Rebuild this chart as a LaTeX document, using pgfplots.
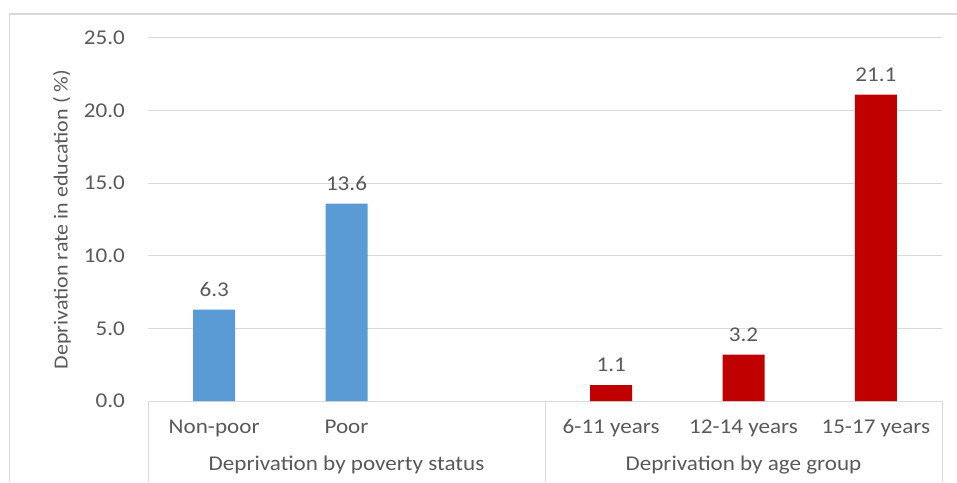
\documentclass[border=0pt]{standalone}
\usepackage{pgfplots}
\pgfplotsset{compat=1.18}
\usepackage{fontspec}
\setmainfont{Carlito}[FakeStretch=1.1]
\definecolor{barblue}{HTML}{5B9BD5}
\definecolor{barred}{HTML}{C00000}
\definecolor{gridgray}{HTML}{D9D9D9}
\definecolor{textgray}{HTML}{595959}
\begin{document}
\fontsize{21}{25}\selectfont
\begin{tikzpicture}[x=1pt,y=1pt]
\begin{axis}[
  at={(148pt,81pt)}, anchor=south west,
  scale only axis, width=794pt, height=363pt,
  xmin=-0.5, xmax=5.5, ymin=0, ymax=25,
  ytick={0,5,...,25},
  xtick={0,1,3,4,5},
  xticklabels={Non-poor,Poor,6-11 years,12-14 years,15-17 years},
  axis line style={draw=none},
  major tick length=0pt,
  ymajorgrids, grid style={gridgray, line width=1pt},
  /pgf/number format/fixed,
  /pgf/number format/fixed zerofill,
  /pgf/number format/precision=1,
  /pgf/number format/assume math mode=true,
  yticklabel style={anchor=east, inner sep=0pt, xshift=-23pt, text=textgray},
  xticklabel style={anchor=base, inner sep=0pt, yshift=-32pt, text=textgray},
  ylabel={Deprivation rate in education ( \%)},
  ylabel style={at={(axis description cs:-0.1083,0.5)}, anchor=center, text=textgray, font=\fontsize{20}{24}\selectfont},
  ybar, bar width=42pt,
  nodes near coords,
  every node near coord/.append style={anchor=south, inner sep=0pt, yshift=13pt, text=textgray},
  clip=false,
]
% poverty status
\addplot[fill=barblue, draw=none, bar shift=0pt] coordinates {(0,6.3) (1,13.6)};
% age groups
\addplot[fill=barred, draw=none, bar shift=0pt] coordinates {(3,1.1) (4,3.2) (5,21.1)};
% group separators below the category axis
\draw[gridgray, line width=1pt] (axis cs:-0.5,0) -- ([yshift=-81pt]axis cs:-0.5,0);
\draw[gridgray, line width=1pt] (axis cs:2.5,0) -- ([yshift=-81pt]axis cs:2.5,0);
\draw[gridgray, line width=1pt] (axis cs:5.5,0) -- ([yshift=-81pt]axis cs:5.5,0);
\node[anchor=base, text=textgray] at ([yshift=-69pt]axis cs:1,0) {Deprivation by poverty status};
\node[anchor=base, text=textgray] at ([yshift=-69pt]axis cs:4,0) {Deprivation by age group};
\end{axis}
% chart area border
\draw[gridgray, line width=1.5pt] (9.5,0) -- (9.5,468) -- (960,468);
\pgfresetboundingbox
\path (0,0) rectangle (957,482);
\end{tikzpicture}
\end{document}
